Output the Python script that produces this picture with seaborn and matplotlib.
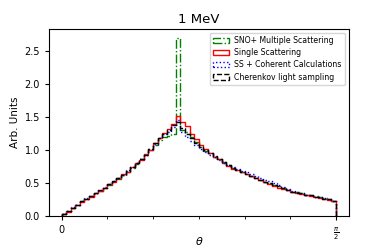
import numpy as np
import pandas as pd
import matplotlib
matplotlib.use("Agg")
import matplotlib.pyplot as plt
from matplotlib.patches import Patch
import seaborn as sns

# 60 bins between 0 and pi/2
n_bins = 60
edges = np.linspace(0, np.pi / 2, n_bins + 1)
centers = 0.5 * (edges[:-1] + edges[1:])

cherenkov = [0.03, 0.07, 0.12, 0.17, 0.22, 0.26, 0.30, 0.34, 0.39, 0.43,
             0.48, 0.53, 0.57, 0.62, 0.68, 0.74, 0.80, 0.86, 0.93, 1.01,
             1.10, 1.19, 1.25, 1.30, 1.38, 1.42, 1.33, 1.25, 1.18, 1.11,
             1.05, 1.00, 0.95, 0.91, 0.87, 0.82, 0.77, 0.73, 0.70, 0.67,
             0.64, 0.61, 0.58, 0.55, 0.52, 0.50, 0.47, 0.45, 0.42, 0.40,
             0.37, 0.35, 0.34, 0.32, 0.31, 0.29, 0.28, 0.26, 0.25, 0.22]

single = [0.03, 0.06, 0.12, 0.16, 0.21, 0.26, 0.29, 0.35, 0.38, 0.43,
          0.49, 0.52, 0.57, 0.63, 0.67, 0.74, 0.81, 0.85, 0.94, 1.00,
          1.11, 1.18, 1.26, 1.32, 1.40, 1.52, 1.42, 1.36, 1.25, 1.17,
          1.08, 1.01, 0.96, 0.90, 0.86, 0.81, 0.76, 0.71, 0.70, 0.66,
          0.63, 0.60, 0.57, 0.54, 0.51, 0.48, 0.46, 0.43, 0.41, 0.39,
          0.36, 0.35, 0.33, 0.31, 0.30, 0.28, 0.27, 0.26, 0.24, 0.22]

coherent = [0.03, 0.07, 0.13, 0.17, 0.22, 0.27, 0.30, 0.35, 0.39, 0.44,
            0.48, 0.53, 0.58, 0.62, 0.69, 0.74, 0.80, 0.87, 0.93, 1.02,
            1.09, 1.18, 1.24, 1.28, 1.35, 1.45, 1.27, 1.20, 1.14, 1.07,
            1.02, 0.97, 0.93, 0.89, 0.85, 0.81, 0.77, 0.74, 0.71, 0.68,
            0.66, 0.63, 0.60, 0.58, 0.55, 0.53, 0.50, 0.47, 0.44, 0.41,
            0.38, 0.36, 0.34, 0.32, 0.31, 0.29, 0.28, 0.27, 0.25, 0.22]

multiple = [0.03, 0.07, 0.12, 0.17, 0.22, 0.26, 0.30, 0.34, 0.38, 0.43,
            0.47, 0.53, 0.56, 0.62, 0.67, 0.73, 0.79, 0.86, 0.92, 1.00,
            1.08, 1.15, 1.20, 1.22, 1.24, 2.70, 1.30, 1.28, 1.20, 1.12,
            1.05, 0.99, 0.95, 0.90, 0.86, 0.82, 0.77, 0.73, 0.70, 0.67,
            0.64, 0.61, 0.58, 0.55, 0.52, 0.50, 0.47, 0.45, 0.42, 0.40,
            0.37, 0.36, 0.34, 0.32, 0.31, 0.30, 0.28, 0.27, 0.25, 0.23]

labels = ["SNO+ Multiple Scattering", "Single Scattering",
          "SS + Coherent Calculations", "Cherenkov light sampling"]
colors = ["green", "red", "blue", "black"]
styles = ["-.", "-", ":", "--"]
series = [multiple, single, coherent, cherenkov]

fig = plt.figure(figsize=(3.89, 2.49), dpi=100)
ax = fig.add_axes([0.126, 0.133, 0.771, 0.751])

for vals, lab, c, ls in zip(series, labels, colors, styles):
    df = pd.DataFrame({"theta": centers, "w": vals})
    sns.histplot(data=df, x="theta", weights="w", bins=n_bins,
                 binrange=(0, np.pi / 2), element="step",
                 fill=False, color=c, linestyle=ls, linewidth=1, ax=ax)
    # close the outline down to zero at both ends, like histtype="step"
    ax.plot([edges[0], edges[0]], [0, vals[0]], color=c, ls=ls, lw=1)
    ax.plot([edges[-1], edges[-1]], [0, vals[-1]], color=c, ls=ls, lw=1)

handles = [Patch(facecolor="none", edgecolor=c, linestyle=ls, linewidth=1, label=lab)
           for lab, c, ls in zip(labels, colors, styles)]
ax.legend(handles=handles, loc="upper right", fontsize=5.6, handlelength=2.0,
          borderpad=0.45, labelspacing=0.4, handletextpad=0.7)

ax.set_xlim(-0.072, 1.645)
ax.set_ylim(0, 2.84)
ax.set_xticks([0, np.pi / 2])
ax.set_xticklabels(["0", r"$\frac{\pi}{2}$"])
ax.set_xticks(np.arange(1, 6) * np.pi / 12, minor=True)
ax.set_yticks([0, 0.5, 1.0, 1.5, 2.0, 2.5])
ax.tick_params(labelsize=7, length=3)
ax.tick_params(which="minor", length=2)
ax.set_xlabel(r"$\theta$", fontsize=8)
ax.xaxis.set_label_coords(0.5, -0.1)
ax.set_ylabel("Arb. Units", fontsize=7.5, labelpad=3)
ax.set_title("1 MeV", fontsize=9.5, pad=4)

fig.savefig("out.png", dpi=100)
